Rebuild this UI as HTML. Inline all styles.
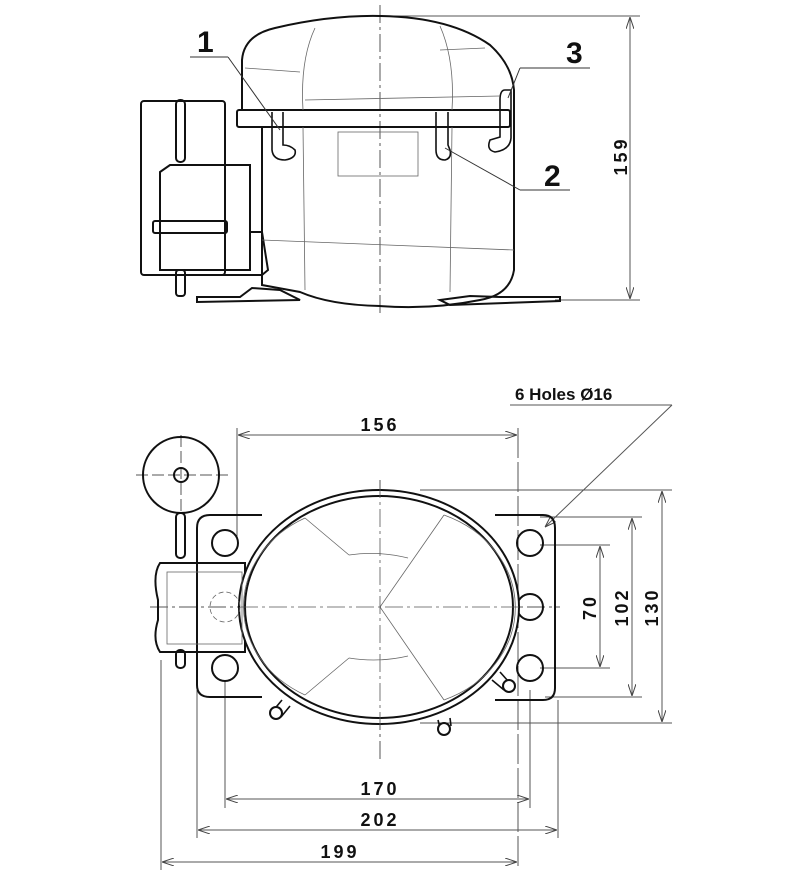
<!DOCTYPE html>
<html><head><meta charset="utf-8"><style>
html,body{margin:0;padding:0;background:#fff;}
svg{display:block;}
text{font-family:"Liberation Sans",Arial,sans-serif;font-weight:bold;fill:#111;}
.d{letter-spacing:3px;}
</style></head><body>
<svg width="800" height="887" viewBox="0 0 800 887" xmlns="http://www.w3.org/2000/svg">
<defs>
<marker id="a" viewBox="0 0 12 8" refX="12" refY="4" markerWidth="12" markerHeight="8" orient="auto-start-reverse" markerUnits="userSpaceOnUse">
<path d="M0,0 L12,4 L0,8" fill="none" stroke="#444" stroke-width="1"/></marker>
</defs>
<g fill="none" stroke="#555" stroke-width="1">
<line x1="380" y1="5" x2="380" y2="315" stroke-dasharray="18,4,3,4"/>
<line x1="380" y1="16" x2="640" y2="16"/>
<line x1="555" y1="300" x2="640" y2="300"/>
<line x1="630" y1="17" x2="630" y2="299" marker-start="url(#a)" marker-end="url(#a)"/>
</g>
<g fill="none" stroke="#111" stroke-width="2">
<path d="M242,110 L242,60 Q244,35 275,28 Q330,15 380,16 Q450,17 490,45 Q512,65 514,90 L514,270 Q510,295 480,300 Q430,310 380,306 Q330,305 300,292 L262,285 L262,127"/>
<rect x="237" y="110" width="273" height="17" rx="2"/>
<rect x="141" y="101" width="84" height="174" rx="3"/>
<path d="M160,172 L170,165 L250,165 L250,270 L160,270 Z"/>
<rect x="153" y="221" width="74" height="12" rx="2"/>
<path d="M250,232 L262,232 L268,270 L262,275 L200,275"/>
<rect x="176" y="100" width="9" height="62" rx="4"/>
<rect x="176" y="270" width="9" height="26" rx="3"/>
<path d="M197,297 L240,297 L252,288 L280,290 L300,300 L197,302 Z"/>
<path d="M440,300 L470,296 L500,297 L560,297 L560,301 L450,305 Z"/>
<path d="M272,112 L272,150 Q273,160 285,160 Q297,158 295,150 Q290,145 283,145 L283,112" stroke-width="1.6"/>
<path d="M436,112 L436,150 Q436,160 445,160 Q452,158 450,150 L448,145 L448,112" stroke-width="1.6"/>
<path d="M511,90 L511,138 Q510,150 495,152 Q486,150 490,140 L500,137 L500,100 Q500,90 505,90 Z" stroke-width="1.6"/>
</g>
<g fill="none" stroke="#666" stroke-width="0.8">
<path d="M315,28 Q300,60 303,110 M303,127 L305,290"/>
<path d="M440,26 Q455,60 452,110 M452,127 L450,292"/>
<rect x="338" y="132" width="80" height="44"/>
<path d="M262,240 Q380,245 514,250"/>
<path d="M245,68 L300,72 M440,50 L485,48 M305,100 L500,96"/>
</g>
<g stroke="#333" stroke-width="1" fill="none">
<line x1="190" y1="57" x2="228" y2="57"/><line x1="228" y1="57" x2="280" y2="130"/>
<line x1="520" y1="68" x2="590" y2="68"/><line x1="520" y1="68" x2="508" y2="98"/>
<line x1="520" y1="190" x2="570" y2="190"/><line x1="520" y1="190" x2="445" y2="148"/>
</g>
<text x="197" y="52" font-size="30">1</text>
<text x="566" y="63" font-size="30">3</text>
<text x="544" y="186" font-size="30">2</text>
<text class="d" transform="translate(627,156) rotate(-90)" font-size="18" text-anchor="middle">159</text>

<g fill="none" stroke="#555" stroke-width="1">
<line x1="380" y1="480" x2="380" y2="760" stroke-dasharray="18,4,3,4"/>
<line x1="150" y1="607" x2="560" y2="607" stroke-dasharray="18,4,3,4"/>
<line x1="136" y1="475" x2="228" y2="475" stroke-dasharray="12,4"/>
<line x1="181" y1="435" x2="181" y2="515" stroke-dasharray="12,4"/>
<line x1="237" y1="428" x2="237" y2="540"/>
<line x1="518" y1="428" x2="518" y2="870" stroke-dasharray="30,4"/>
<line x1="238" y1="435" x2="517" y2="435" marker-start="url(#a)" marker-end="url(#a)"/>
<line x1="510" y1="405" x2="672" y2="405"/>
<line x1="672" y1="405" x2="545" y2="527" marker-end="url(#a)"/>
<line x1="420" y1="490" x2="672" y2="490"/>
<line x1="540" y1="517" x2="642" y2="517"/>
<line x1="540" y1="545" x2="610" y2="545"/>
<line x1="540" y1="668" x2="610" y2="668"/>
<line x1="545" y1="697" x2="642" y2="697"/>
<line x1="420" y1="723" x2="672" y2="723"/>
<line x1="600" y1="546" x2="600" y2="667" marker-start="url(#a)" marker-end="url(#a)"/>
<line x1="632" y1="518" x2="632" y2="696" marker-start="url(#a)" marker-end="url(#a)"/>
<line x1="662" y1="491" x2="662" y2="722" marker-start="url(#a)" marker-end="url(#a)"/>
<line x1="225" y1="680" x2="225" y2="808"/>
<line x1="530" y1="690" x2="530" y2="808"/>
<line x1="197" y1="690" x2="197" y2="838"/>
<line x1="558" y1="700" x2="558" y2="838"/>
<line x1="161" y1="660" x2="161" y2="870"/>
<line x1="226" y1="799" x2="529" y2="799" marker-start="url(#a)" marker-end="url(#a)"/>
<line x1="198" y1="830" x2="557" y2="830" marker-start="url(#a)" marker-end="url(#a)"/>
<line x1="162" y1="862" x2="517" y2="862" marker-start="url(#a)" marker-end="url(#a)"/>
</g>
<g fill="none" stroke="#111" stroke-width="2">
<circle cx="181" cy="475" r="38"/>
<circle cx="181" cy="475" r="7"/>
<rect x="176" y="513" width="9" height="45" rx="4"/>
<rect x="176" y="650" width="9" height="18" rx="4"/>
<path d="M262,515 L210,515 Q197,515 197,528 L197,685 Q197,697 210,697 L262,697"/>
<path d="M495,515 L543,515 Q555,515 555,528 L555,688 Q555,700 543,700 L495,700"/>
<circle cx="225" cy="543" r="13"/><circle cx="225" cy="668" r="13"/>
<circle cx="530" cy="543" r="13"/><circle cx="530" cy="607" r="13"/><circle cx="530" cy="668" r="13"/>
<path d="M160,563 L245,563 L245,652 L160,652 Q152,640 158,620 L158,600 Q152,575 160,563 Z"/>
<path d="M282,700 L272,712 M290,706 L281,717" stroke-width="1.6"/>
<path d="M438,720 L440,728 M450,718 L451,726" stroke-width="1.6"/>
<path d="M500,672 L508,681 M492,680 L504,690" stroke-width="1.6"/>
<circle cx="276" cy="713" r="6" fill="#fff"/><circle cx="444" cy="729" r="6" fill="#fff"/><circle cx="509" cy="686" r="6" fill="#fff"/>
<ellipse cx="379" cy="607" rx="140" ry="117" fill="#fff"/>
<ellipse cx="379" cy="607" rx="134" ry="111"/>
</g>
<g fill="none" stroke="#666" stroke-width="0.8">
<rect x="167" y="572" width="75" height="72"/>
<circle cx="225" cy="607" r="15" stroke-dasharray="5,3"/>
<path d="M349,555 A130,110 0 0 1 408,558 M349,658 A130,110 0 0 0 408,656"/>
<path d="M305,518 L349,555 M305,695 L349,658 M444,515 L380,607 L444,700"/>
<path d="M305,518 A115,100 0 0 0 305,695 M444,515 A115,100 0 0 1 444,700"/>
<line x1="380" y1="480" x2="380" y2="760" stroke="#555" stroke-dasharray="18,4,3,4"/>
<line x1="240" y1="607" x2="520" y2="607" stroke="#555" stroke-dasharray="18,4,3,4"/>
</g>
<text class="d" x="380" y="431" font-size="18" text-anchor="middle">156</text>
<text x="515" y="400" font-size="17" font-family="Liberation Mono,monospace">6 Holes Ø16</text>
<text class="d" transform="translate(596,607) rotate(-90)" font-size="18" text-anchor="middle">70</text>
<text class="d" transform="translate(628,607) rotate(-90)" font-size="18" text-anchor="middle">102</text>
<text class="d" transform="translate(658,607) rotate(-90)" font-size="18" text-anchor="middle">130</text>
<text class="d" x="380" y="795" font-size="18" text-anchor="middle">170</text>
<text class="d" x="380" y="826" font-size="18" text-anchor="middle">202</text>
<text class="d" x="340" y="858" font-size="18" text-anchor="middle">199</text>
</svg>
</body></html>
